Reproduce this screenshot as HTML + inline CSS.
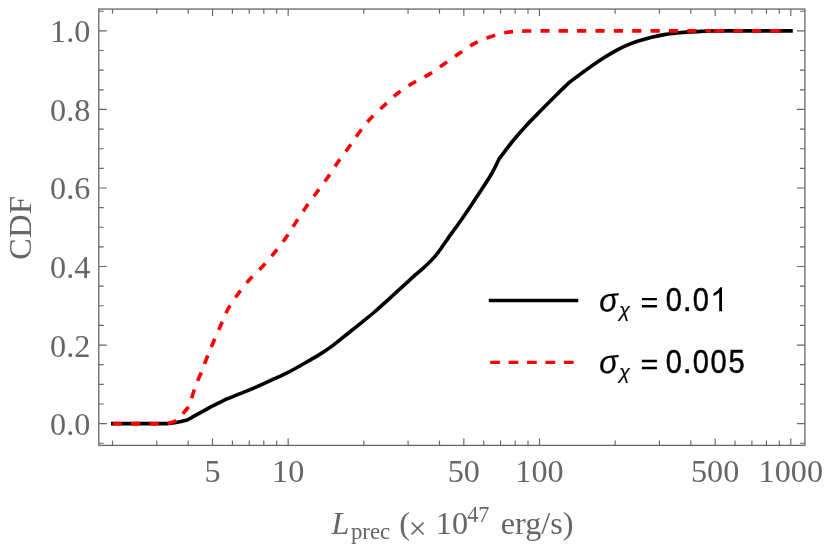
<!DOCTYPE html>
<html><head><meta charset="utf-8"><title>CDF</title>
<style>html,body{margin:0;padding:0;background:#fff;}svg{display:block;will-change:transform;}</style></head>
<body>
<svg width="825" height="550" viewBox="0 0 825 550">
<rect width="825" height="550" fill="#fff"/>
<path d="M112.80 423.60C128.24 423.60 151.86 423.60 167.30 423.60C170.13 423.23 174.49 422.81 177.30 422.30C180.13 421.79 184.47 420.65 187.30 420.00C190.90 417.99 196.39 414.89 200.00 412.90C203.68 410.87 209.50 407.68 213.30 405.70C217.17 403.69 223.33 400.68 227.30 398.70C231.66 397.00 238.63 394.34 242.70 392.70C246.49 391.17 252.26 388.75 256.00 387.10C260.50 385.12 269.81 380.87 274.50 378.70C278.65 376.78 285.03 373.89 289.10 371.80C293.22 369.69 299.51 366.10 303.60 363.80C307.72 361.48 314.15 357.93 318.20 355.40C322.32 352.82 328.71 348.54 332.70 345.60C336.82 342.57 343.18 337.29 347.30 334.00C351.41 330.72 357.95 325.52 361.80 322.40C365.42 319.48 370.98 315.03 374.50 312.00C378.37 308.67 384.98 302.63 389.10 298.90C393.22 295.16 399.93 288.96 403.60 285.60C406.83 282.65 412.31 277.61 415.00 275.20C417.13 273.30 420.87 270.12 422.60 268.60C423.91 267.45 425.94 265.71 427.20 264.50C428.70 263.06 431.58 260.20 433.20 258.40C434.81 256.60 437.14 253.73 438.60 251.80C440.14 249.76 442.70 246.01 444.10 244.00C445.36 242.19 447.23 239.40 448.50 237.60C449.90 235.62 452.44 232.15 454.00 230.00C455.70 227.65 458.70 223.58 460.50 221.00C462.96 217.46 468.35 209.56 471.40 205.00C474.49 200.38 479.74 192.32 482.30 188.40C484.35 185.26 487.70 180.29 489.50 177.30C491.17 174.53 493.63 169.94 495.00 167.30C496.25 164.90 498.01 161.14 499.20 158.70C503.17 153.54 509.16 145.42 513.20 140.50C517.15 135.69 523.58 128.45 527.70 124.00C531.72 119.66 538.18 113.28 542.30 109.10C546.39 104.95 552.95 98.31 556.80 94.50C560.36 90.98 565.90 85.69 569.50 82.20C573.89 78.94 580.68 73.82 585.00 70.70C589.21 67.67 595.68 63.01 600.00 60.20C604.30 57.41 611.75 53.00 615.50 50.90C618.54 49.20 623.30 46.77 626.50 45.40C629.84 43.97 635.53 41.96 639.10 40.80C642.63 39.65 648.13 38.08 651.70 37.20C655.24 36.33 660.73 35.20 664.30 34.60C667.85 34.01 673.33 33.38 676.90 33.00C680.46 32.62 685.92 32.14 689.50 31.90C693.08 31.66 698.73 31.44 702.20 31.30C705.54 31.16 710.66 31.01 714.00 30.90C735.82 30.90 769.18 30.90 791.00 30.90" fill="none" stroke="#000" stroke-width="3.6" stroke-linejoin="round" stroke-linecap="square"/>
<path d="M112.80 423.60C128.24 423.60 151.86 423.60 167.30 423.60C169.96 422.69 174.48 421.82 176.70 420.40C178.92 418.99 181.27 415.58 183.00 413.60C184.78 411.56 187.52 408.15 189.30 406.00C190.75 401.27 193.21 392.88 194.40 389.30C195.22 386.82 196.72 383.12 197.70 380.70C198.72 378.19 200.56 374.20 201.60 371.60C202.78 368.67 204.70 363.27 206.00 360.00C207.62 355.95 211.02 347.68 213.00 343.00C214.93 338.44 218.00 331.53 220.00 327.00C222.12 322.18 225.45 313.68 228.00 309.00C230.45 304.52 234.98 298.12 238.00 294.00C241.12 289.75 246.46 282.97 250.00 279.00C253.47 275.11 259.46 269.82 263.00 266.00C266.54 262.18 271.88 255.82 275.00 252.00C277.94 248.40 282.34 242.81 285.00 239.00C287.98 234.75 293.02 226.53 296.00 222.00C298.80 217.73 303.07 211.18 306.00 207.00C308.98 202.75 313.88 196.25 317.00 192.00C320.12 187.75 325.02 181.25 328.00 177.00C330.93 172.82 335.07 166.18 338.00 162.00C340.98 157.75 345.92 151.28 349.00 147.00C352.26 142.47 357.88 134.11 361.00 130.00C363.67 126.47 367.96 121.22 371.00 118.00C374.26 114.54 380.26 109.06 384.00 105.60C387.82 102.06 393.89 96.20 398.00 93.00C402.03 89.86 408.62 85.63 413.00 83.00C417.39 80.36 424.61 77.09 429.00 74.40C433.39 71.71 439.75 66.95 444.00 64.00C448.25 61.05 454.75 56.49 459.00 53.60C463.22 50.73 470.03 45.81 474.00 43.60C477.50 41.65 483.88 39.22 487.00 38.00C489.50 37.02 493.41 35.73 496.00 35.00C498.69 34.23 503.59 33.08 506.00 32.60C507.96 32.21 511.00 31.75 513.00 31.60C516.12 31.37 523.75 31.09 528.00 31.00C532.67 30.90 540.90 30.93 546.00 30.90C592.81 30.90 664.39 30.90 711.20 30.90" fill="none" stroke="#ff0000" stroke-width="3.6" stroke-linejoin="round" stroke-dasharray="9.165 9.165"/>
<path d="M715.2 30.9H781.8" fill="none" stroke="#ff0000" stroke-width="3.6" stroke-dasharray="9.2 9.1 9.3 9.2 9.1 9.1 9.3 100"/>
<path d="M713 30.9h2.2M779.4 30.9h2.4" fill="none" stroke="#a00000" stroke-width="3.6"/>
<path d="M212.52 445.4v-7.0M212.52 9.05v7.0M288.17 445.4v-7.0M288.17 9.05v7.0M463.84 445.4v-7.0M463.84 9.05v7.0M539.49 445.4v-7.0M539.49 9.05v7.0M715.16 445.4v-7.0M715.16 9.05v7.0M790.81 445.4v-7.0M790.81 9.05v7.0M112.50 445.4v-4.8M112.50 9.05v4.8M156.76 445.4v-4.8M156.76 9.05v4.8M188.16 445.4v-4.8M188.16 9.05v4.8M232.41 445.4v-4.8M232.41 9.05v4.8M249.24 445.4v-4.8M249.24 9.05v4.8M263.81 445.4v-4.8M263.81 9.05v4.8M276.67 445.4v-4.8M276.67 9.05v4.8M363.82 445.4v-4.8M363.82 9.05v4.8M408.08 445.4v-4.8M408.08 9.05v4.8M439.48 445.4v-4.8M439.48 9.05v4.8M483.73 445.4v-4.8M483.73 9.05v4.8M500.56 445.4v-4.8M500.56 9.05v4.8M515.13 445.4v-4.8M515.13 9.05v4.8M527.99 445.4v-4.8M527.99 9.05v4.8M615.14 445.4v-4.8M615.14 9.05v4.8M659.40 445.4v-4.8M659.40 9.05v4.8M690.80 445.4v-4.8M690.80 9.05v4.8M735.05 445.4v-4.8M735.05 9.05v4.8M751.88 445.4v-4.8M751.88 9.05v4.8M766.45 445.4v-4.8M766.45 9.05v4.8M779.31 445.4v-4.8M779.31 9.05v4.8M98.8 443.24h4.9M804.9 443.24h-4.9M98.8 423.60h8.0M804.9 423.60h-8.0M98.8 403.97h4.9M804.9 403.97h-4.9M98.8 384.33h4.9M804.9 384.33h-4.9M98.8 364.69h4.9M804.9 364.69h-4.9M98.8 345.06h8.0M804.9 345.06h-8.0M98.8 325.43h4.9M804.9 325.43h-4.9M98.8 305.79h4.9M804.9 305.79h-4.9M98.8 286.15h4.9M804.9 286.15h-4.9M98.8 266.52h8.0M804.9 266.52h-8.0M98.8 246.89h4.9M804.9 246.89h-4.9M98.8 227.25h4.9M804.9 227.25h-4.9M98.8 207.62h4.9M804.9 207.62h-4.9M98.8 187.98h8.0M804.9 187.98h-8.0M98.8 168.35h4.9M804.9 168.35h-4.9M98.8 148.71h4.9M804.9 148.71h-4.9M98.8 129.08h4.9M804.9 129.08h-4.9M98.8 109.44h8.0M804.9 109.44h-8.0M98.8 89.81h4.9M804.9 89.81h-4.9M98.8 70.17h4.9M804.9 70.17h-4.9M98.8 50.54h4.9M804.9 50.54h-4.9M98.8 30.90h8.0M804.9 30.90h-8.0M98.8 11.27h4.9M804.9 11.27h-4.9" stroke="#666666" stroke-width="1.15" fill="none"/>
<rect x="98.8" y="9.05" width="706.10" height="436.35" fill="none" stroke="#666666" stroke-width="1.3"/>
<g font-family="'Liberation Serif', serif" font-size="32.2" fill="#666666">
<text x="212.52" y="482.3" text-anchor="middle">5</text>
<text x="288.17" y="482.3" text-anchor="middle">10</text>
<text x="463.84" y="482.3" text-anchor="middle">50</text>
<text x="539.49" y="482.3" text-anchor="middle">100</text>
<text x="715.16" y="482.3" text-anchor="middle">500</text>
<text x="790.81" y="482.3" text-anchor="middle">1000</text>
<text x="90.3" y="435.10" text-anchor="end">0.0</text>
<text x="90.3" y="356.56" text-anchor="end">0.2</text>
<text x="90.3" y="278.02" text-anchor="end">0.4</text>
<text x="90.3" y="199.48" text-anchor="end">0.6</text>
<text x="90.3" y="120.94" text-anchor="end">0.8</text>
<text x="90.3" y="42.40" text-anchor="end">1.0</text>
<text transform="translate(30.6,227.6) rotate(-90)" text-anchor="middle" letter-spacing="0.5">CDF</text>
<text x="331.5" y="534.4"><tspan font-style="italic">L</tspan><tspan font-size="22.8" dx="1.5" dy="5.0">prec</tspan><tspan dx="1.1" dy="-5.0"> (</tspan><tspan dx="-1.6" dy="4.2">×</tspan><tspan dx="1.2" dy="-4.2"> 10</tspan><tspan font-size="22.2" dx="-0.8" dy="-12.7">47</tspan><tspan dx="3.3" dy="12.7"> erg/s)</tspan></text>
</g>
<line x1="488.8" y1="300.5" x2="578.3" y2="300.5" stroke="#000" stroke-width="3.3"/>
<line x1="490.2" y1="362.3" x2="578.4" y2="362.3" stroke="#ff0000" stroke-width="3.3" stroke-dasharray="9.7 8.73"/>
<g font-family="'Liberation Sans', sans-serif" font-size="32.3" fill="#000" stroke="#000" stroke-width="0.45">
<text x="598.9" y="311.2" font-style="italic" stroke-width="0.15" transform="rotate(-5 609 302.7)">σ</text>
<text x="619.1" y="316.8" font-style="italic" font-size="20" stroke-width="0.12">χ</text>
<path d="M641.9 297.95h15v2.4h-15zM641.9 305.00h15v2.4h-15z" stroke="none"/>
<text transform="translate(673.78,311.2) scale(0.9,1.03)" text-anchor="middle" x="0" y="0">0</text>
<text x="682.76" y="311.2">.</text>
<text transform="translate(700.72,311.2) scale(0.9,1.03)" text-anchor="middle" x="0" y="0">0</text>
<path transform="translate(710.00,311.2) scale(0.01577,-0.01624)" d="M763 0H583V1147Q518 1085 412.5 1023T223 930V1104Q374 1175 487 1276T647 1472H763Z" stroke="none"/>
</g>
<g font-family="'Liberation Sans', sans-serif" font-size="32.3" fill="#000" stroke="#000" stroke-width="0.45">
<text x="598.9" y="373.0" font-style="italic" stroke-width="0.15" transform="rotate(-5 609 364.5)">σ</text>
<text x="619.1" y="378.6" font-style="italic" font-size="20" stroke-width="0.12">χ</text>
<path d="M641.9 359.75h15v2.4h-15zM641.9 366.80h15v2.4h-15z" stroke="none"/>
<text transform="translate(673.78,373.0) scale(0.9,1.03)" text-anchor="middle" x="0" y="0">0</text>
<text x="682.76" y="373.0">.</text>
<text transform="translate(700.72,373.0) scale(0.9,1.03)" text-anchor="middle" x="0" y="0">0</text>
<text transform="translate(718.68,373.0) scale(0.9,1.03)" text-anchor="middle" x="0" y="0">0</text>
<text transform="translate(736.64,373.0) scale(0.9,1.03)" text-anchor="middle" x="0" y="0">5</text>
</g>
</svg>
</body></html>
